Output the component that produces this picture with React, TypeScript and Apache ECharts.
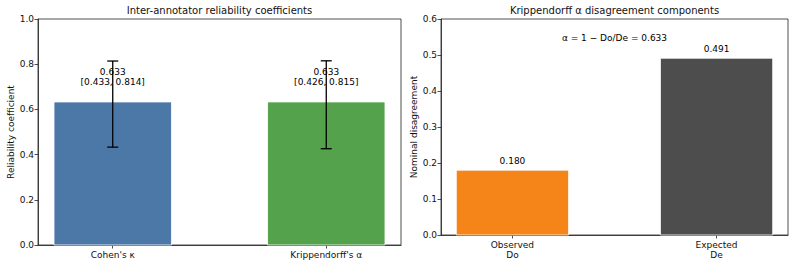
import React, { useEffect, useRef } from "react";
import * as echarts from "echarts";

const leftCategories = ["Cohen's κ", "Krippendorff's α"];
const leftValues = [0.633, 0.633];
const leftLower = [0.433, 0.426];
const leftUpper = [0.814, 0.815];
const leftColors = ["#4C78A8", "#54A24B"];

const rightCategories = ["Observed\nDo", "Expected\nDe"];
const rightValues = [0.18, 0.491];
const rightColors = ["#F58518", "#4D4D4D"];
const alphaValue = 0.633;

const FONT = "DejaVu Sans";
const BAR_W = 0.55;

export default function App() {
  const ref = useRef<HTMLDivElement>(null);
  useEffect(() => {
    document.body.style.margin = "0";
    const chart = echarts.init(ref.current!, null, { renderer: "svg" });
    const axisCommon = {
      axisLine: { show: true, onZero: false, lineStyle: { color: "#222", width: 0.8 } },
      axisTick: { show: true, length: 3.5, lineStyle: { color: "#222", width: 0.8 } },
      splitLine: { show: false },
    };
    const catAxis = (gi: number, cats: string[]) => ({
      type: "value",
      gridIndex: gi,
      min: -0.35,
      max: 1.35,
      ...axisCommon,
      axisTick: { ...axisCommon.axisTick, customValues: cats.map((_, i) => i) },
      axisLabel: {
        customValues: cats.map((_, i) => i),
        formatter: (v: number) => cats[Math.round(v)] ?? "",
        fontFamily: FONT,
        fontSize: 9,
        color: "#111",
        margin: 5,
        lineHeight: 10,
      },
    });
    const valAxis = (gi: number, max: number, interval: number, name: string, gap: number) => ({
      type: "value",
      gridIndex: gi,
      min: 0,
      max,
      interval,
      name,
      nameLocation: "middle",
      nameGap: gap,
      nameTextStyle: { fontFamily: FONT, fontSize: 9, color: "#111" },
      ...axisCommon,
      axisLabel: {
        formatter: (v: number) => v.toFixed(1),
        fontFamily: FONT,
        fontSize: 9,
        color: "#111",
        margin: 4,
      },
    });
    const labelFont = `9px "${FONT}"`;
    chart.setOption({
      animation: false,
      title: [
        {
          text: "Inter-annotator reliability coefficients",
          left: 219.5,
          top: 5,
          padding: 0,
          textAlign: "center",
          textStyle: { fontFamily: FONT, fontSize: 10, fontWeight: "normal", color: "#111" },
        },
        {
          text: "Krippendorff α disagreement components",
          left: 614.5,
          top: 5,
          padding: 0,
          textAlign: "center",
          textStyle: { fontFamily: FONT, fontSize: 10, fontWeight: "normal", color: "#111" },
        },
      ],
      grid: [
        { left: 38, top: 19, width: 363, height: 226, show: true, borderColor: "#222", borderWidth: 0.8 },
        { left: 441, top: 19, width: 347, height: 216, show: true, borderColor: "#222", borderWidth: 0.8 },
      ],
      xAxis: [catAxis(0, leftCategories), catAxis(1, rightCategories)],
      yAxis: [
        valAxis(0, 1, 0.2, "Reliability coefficient", 22),
        valAxis(1, 0.6, 0.1, "Nominal disagreement", 22),
      ],
      series: [
        {
          type: "custom",
          xAxisIndex: 0,
          yAxisIndex: 0,
          clip: false,
          data: leftValues.map((v, i) => [i, v, leftLower[i], leftUpper[i]]),
          renderItem: (params: any, api: any) => {
            const i = params.dataIndex;
            const x = api.value(0);
            const v = api.value(1);
            const lo = api.value(2);
            const hi = api.value(3);
            const base = api.coord([x, 0]);
            const top = api.coord([x, v]);
            const w = api.size([BAR_W, 0])[0];
            const pLo = api.coord([x, lo]);
            const pHi = api.coord([x, hi]);
            const pLab = api.coord([x, v + 0.112]);
            const cap = 5.5;
            return {
              type: "group",
              children: [
                {
                  type: "rect",
                  shape: { x: base[0] - w / 2, y: top[1], width: w, height: base[1] - top[1] },
                  style: { fill: leftColors[i], stroke: "#fff", lineWidth: 0.8 },
                },
                {
                  type: "text",
                  x: pLab[0],
                  y: pLab[1],
                  style: {
                    text: `${v.toFixed(3)}\n[${lo.toFixed(3)}, ${hi.toFixed(3)}]`,
                    align: "center",
                    verticalAlign: "middle",
                    font: labelFont,
                    lineHeight: 10,
                    fill: "#000",
                  },
                },
                {
                  type: "line",
                  shape: { x1: pLo[0], y1: pLo[1], x2: pHi[0], y2: pHi[1] },
                  style: { stroke: "#000", lineWidth: 1.3 },
                },
                {
                  type: "line",
                  shape: { x1: pLo[0] - cap, y1: pLo[1], x2: pLo[0] + cap, y2: pLo[1] },
                  style: { stroke: "#000", lineWidth: 1.3 },
                },
                {
                  type: "line",
                  shape: { x1: pHi[0] - cap, y1: pHi[1], x2: pHi[0] + cap, y2: pHi[1] },
                  style: { stroke: "#000", lineWidth: 1.3 },
                },
              ],
            };
          },
        },
        {
          type: "custom",
          xAxisIndex: 1,
          yAxisIndex: 1,
          clip: false,
          data: rightValues.map((v, i) => [i, v]),
          renderItem: (params: any, api: any) => {
            const i = params.dataIndex;
            const x = api.value(0);
            const v = api.value(1);
            const base = api.coord([x, 0]);
            const top = api.coord([x, v]);
            const w = api.size([BAR_W, 0])[0];
            return {
              type: "group",
              children: [
                {
                  type: "rect",
                  shape: { x: base[0] - w / 2, y: top[1], width: w, height: base[1] - top[1] },
                  style: { fill: rightColors[i], stroke: "#fff", lineWidth: 0.8 },
                },
                {
                  type: "text",
                  x: top[0],
                  y: top[1] - 5,
                  style: {
                    text: v.toFixed(3),
                    align: "center",
                    verticalAlign: "bottom",
                    font: labelFont,
                    fill: "#000",
                  },
                },
              ],
            };
          },
        },
        {
          type: "custom",
          xAxisIndex: 1,
          yAxisIndex: 1,
          clip: false,
          data: [[0.5, 0.547]],
          renderItem: (params: any, api: any) => {
            const p = api.coord([api.value(0), api.value(1)]);
            return {
              type: "text",
              x: p[0],
              y: p[1],
              style: {
                text: `α = 1 − Do/De = ${alphaValue.toFixed(3)}`,
                align: "center",
                verticalAlign: "middle",
                font: labelFont,
                fill: "#000",
              },
            };
          },
        },
      ],
    });
    return () => chart.dispose();
  }, []);
  return <div ref={ref} style={{ width: 795, height: 266 }} />;
}
